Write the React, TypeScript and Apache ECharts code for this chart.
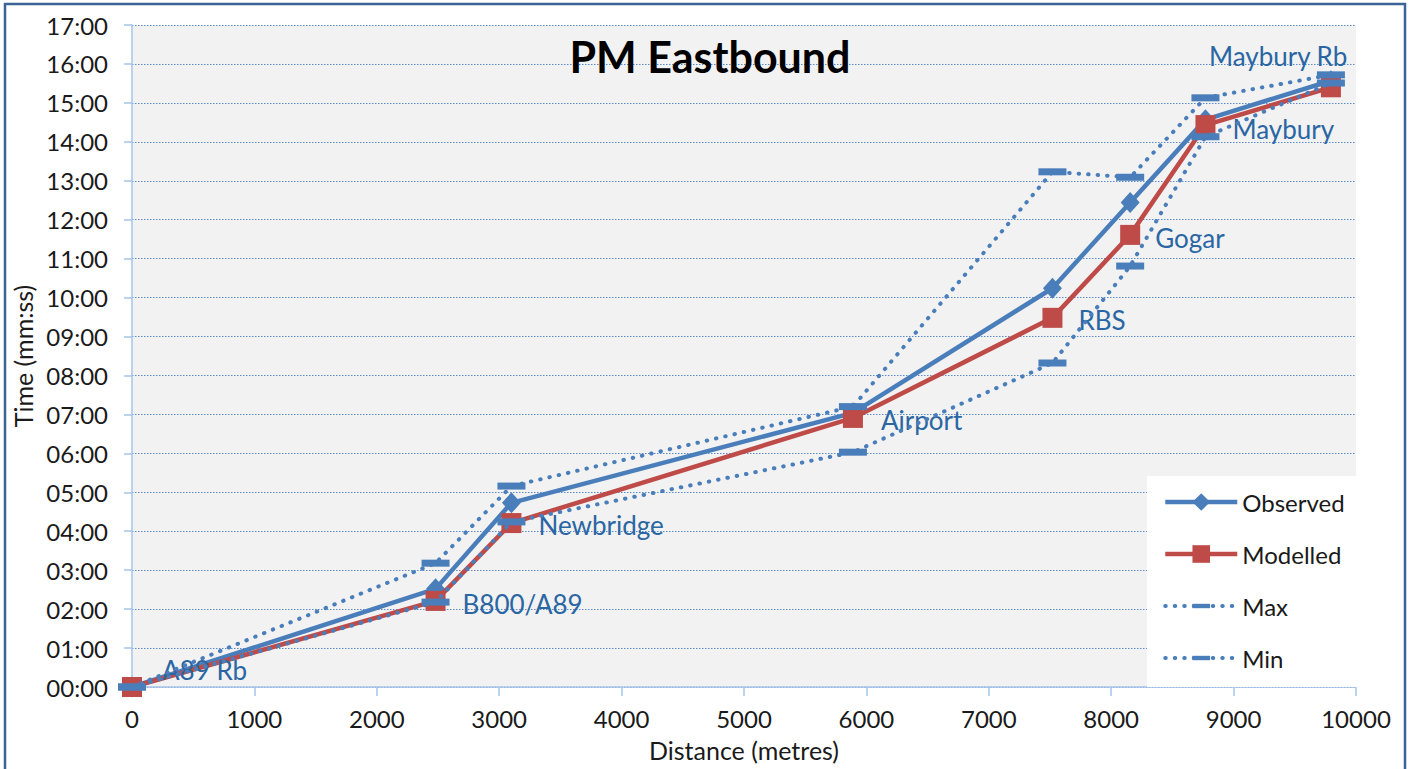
import React, { useEffect, useRef } from "react";
import * as echarts from "echarts";

const distances = [0, 2480, 3100, 5890, 7520, 8155, 8770, 9795];
const stopNames = ["A89 Rb", "B800/A89", "Newbridge", "Airport", "RBS", "Gogar", "Maybury", "Maybury Rb"];
const observed = [0, 2.52, 4.73, 7.04, 10.24, 12.44, 14.57, 15.57];
const modelled = [0, 2.21, 4.21, 6.91, 9.48, 11.61, 14.43, 15.4];
const maxTimes = [0, 3.18, 5.16, 7.2, 13.23, 13.09, 15.13, 15.72];
const minTimes = [0, 2.18, 4.24, 6.03, 8.32, 10.81, 14.13, 15.51];
const labelOffsets: [number, number][] = [
  [15, -17], [12, 3], [12, 2], [13, 2], [11, 2], [10, 3], [12, 4], [-137, -31],
];

const FONT = "Lato, 'Open Sans', sans-serif";
const BLUE = "#4a7ebb";
const RED = "#be4b48";
const LABEL_BLUE = "#2a66a3";
const DASH = "path://M0,0M28,28M0,10.5H28V17.5H0Z";

function pair(xs: number[], ys: number[]) {
  return xs.map((x, i) => [x, ys[i]]);
}

export default function App() {
  const ref = useRef<HTMLDivElement>(null);
  useEffect(() => {
    document.body.style.margin = "0";
    const chart = echarts.init(ref.current!, null, { renderer: "svg" });
    const dotted = {
      color: BLUE,
      width: 4,
      type: [0.5, 9] as any,
      cap: "round" as any,
    };
    chart.setOption({
      animation: false,
      backgroundColor: "#ffffff",
      graphic: [
        {
          type: "rect",
          shape: { x: 5, y: 4, width: 1400, height: 800 },
          style: { fill: "none", stroke: "#3b6497", lineWidth: 2.5 },
          z: 100,
        },
      ],
      title: {
        text: "PM Eastbound",
        left: 705,
        top: 30,
        textAlign: "center",
        textStyle: { fontFamily: FONT, fontSize: 43, fontWeight: "bold", color: "#000" },
      },
      grid: {
        left: 132,
        right: 59,
        top: 25,
        bottom: 82,
        show: true,
        backgroundColor: "#f2f2f2",
        borderWidth: 0,
      },
      legend: {
        orient: "vertical",
        left: 1147,
        top: 476,
        backgroundColor: "#ffffff",
        padding: [14, 18, 17, 16],
        itemWidth: 72,
        itemHeight: 22,
        itemGap: 28,
        textStyle: { fontFamily: FONT, fontSize: 24, color: "#1a1a1a", lineHeight: 24 },
        data: [
          { name: "Observed", lineStyle: { width: 4.5 } },
          { name: "Modelled", lineStyle: { width: 4.5 } },
          { name: "Max", lineStyle: { width: 4 } },
          { name: "Min", lineStyle: { width: 4 } },
        ],
      },
      xAxis: {
        type: "value",
        min: 0,
        max: 10000,
        interval: 1000,
        name: "Distance (metres)",
        nameLocation: "middle",
        nameGap: 50,
        nameTextStyle: { fontFamily: FONT, fontSize: 25, color: "#1a1a1a" },
        axisLine: { show: true, lineStyle: { color: "#a6c4e8", width: 1.5 } },
        axisTick: { show: true, length: 9, lineStyle: { color: "#a6c4e8", width: 1.5 } },
        axisLabel: {
          fontFamily: FONT,
          fontSize: 24,
          color: "#1a1a1a",
          margin: 19,
          formatter: (v: number) => String(v),
        },
        splitLine: { show: false },
      },
      yAxis: {
        type: "value",
        min: 0,
        max: 17,
        interval: 1,
        name: "Time (mm:ss)",
        nameLocation: "middle",
        nameGap: 92,
        nameTextStyle: { fontFamily: FONT, fontSize: 25, color: "#1a1a1a" },
        axisLine: { show: true, lineStyle: { color: "#a6c4e8", width: 1.5 } },
        axisTick: { show: true, length: 8, lineStyle: { color: "#a6c4e8", width: 1.5 } },
        axisLabel: {
          fontFamily: FONT,
          fontSize: 24,
          color: "#1a1a1a",
          margin: 24,
          formatter: (v: number) => String(Math.round(v)).padStart(2, "0") + ":00",
        },
        splitLine: { show: true, lineStyle: { color: "#5b8bd0", width: 1, type: [1.5, 1.5] } },
      },
      series: [
        {
          name: "Observed",
          type: "line",
          data: pair(distances, observed),
          symbol: "diamond",
          symbolSize: [19, 21],
          itemStyle: { color: BLUE },
          lineStyle: { color: BLUE, width: 4.5 },
          z: 2,
        },
        {
          name: "Modelled",
          type: "line",
          data: pair(distances, modelled).map((p, i) => ({
            value: p,
            label: {
              show: true,
              position: "right",
              distance: 5,
              offset: labelOffsets[i],
              formatter: stopNames[i],
            },
          })),
          symbol: "rect",
          symbolSize: 20,
          itemStyle: { color: RED },
          lineStyle: { color: RED, width: 4.5 },
          label: { fontFamily: FONT, fontSize: 26, color: LABEL_BLUE },
          z: 3,
        },
        {
          name: "Max",
          type: "line",
          data: pair(distances, maxTimes),
          symbol: DASH,
          symbolSize: 28,
          itemStyle: { color: BLUE },
          lineStyle: dotted,
          z: 4,
        },
        {
          name: "Min",
          type: "line",
          data: pair(distances, minTimes),
          symbol: DASH,
          symbolSize: 28,
          itemStyle: { color: BLUE },
          lineStyle: dotted,
          z: 5,
        },
      ],
    });
    return () => chart.dispose();
  }, []);
  return <div ref={ref} style={{ width: 1415, height: 769 }} />;
}
